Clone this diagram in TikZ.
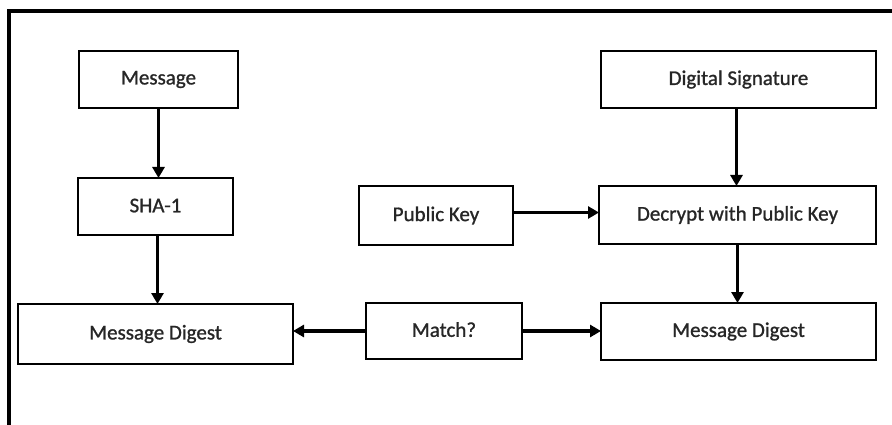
\documentclass[tikz,border=0pt]{standalone}
\usepackage{fontspec}
\setmainfont{Carlito}[FakeBold=1.2]
\newfontfamily\boxfont{Carlito}[FakeBold=1.0]
\usetikzlibrary{arrows.meta}
\tikzset{
  box/.style={draw=black, line width=2pt, fill=white, inner sep=0pt, align=center,
    font=\boxfont\fontsize{21}{24}\selectfont, text=black!85},
  conn/.style={line width=3.8pt, -{Triangle[length=11pt,width=12pt]}, shorten >=-1pt},
  frame/.style={line width=3.2pt}
}
\begin{document}
\begin{tikzpicture}[x=1pt,y=-1pt]
\useasboundingbox (0,0) rectangle (892,425);
\coordinate (fb) at (9,425);
\coordinate (fc) at (9,11);
\coordinate (fr) at (892,11);
\draw[frame] (fb) -- (fc) -- (fr);

\node[box, minimum width=159pt, minimum height=57pt] (msg) at (158.5,79.5) {\raisebox{2pt}{Message}};
\node[box, minimum width=155pt, minimum height=57pt] (sha) at (155.5,206.5) {\raisebox{2pt}{SHA-1}};
\node[box, minimum width=275pt, minimum height=60pt] (mdl) at (155.5,334) {\raisebox{2pt}{Message Digest}};
\node[box, minimum width=156pt, minimum height=56pt] (match) at (444,331) {\raisebox{3pt}{Match?}};
\node[box, minimum width=154pt, minimum height=59pt] (pk) at (436,215.5) {\raisebox{2pt}{Public Key}};
\node[box, minimum width=277pt, minimum height=58pt] (dec) at (737.5,215) {\raisebox{2pt}{Decrypt with Public Key}};
\node[box, minimum width=275pt, minimum height=57pt] (ds) at (738.5,79.5) {\raisebox{2pt}{Digital Signature}};
\node[box, minimum width=275pt, minimum height=57pt] (mdr) at (738.5,331.5) {\raisebox{3pt}{Message Digest}};

\draw[conn] (msg.south) -- (msg.south |- sha.north);
\draw[conn] ([xshift=2pt]sha.south) -- ([xshift=2pt]sha.south |- mdl.north);
\draw[conn] (match.west) -- (match.west -| mdl.east);
\draw[conn] (match.east) -- (match.east -| mdr.west);
\draw[conn] ([yshift=3pt]pk.east) -- ([yshift=3pt]pk.east -| dec.west);
\draw[conn] ([xshift=-2pt]ds.south) -- ([xshift=-2pt]ds.south |- dec.north);
\draw[conn] (dec.south) -- (dec.south |- mdr.north);
\end{tikzpicture}
\end{document}
